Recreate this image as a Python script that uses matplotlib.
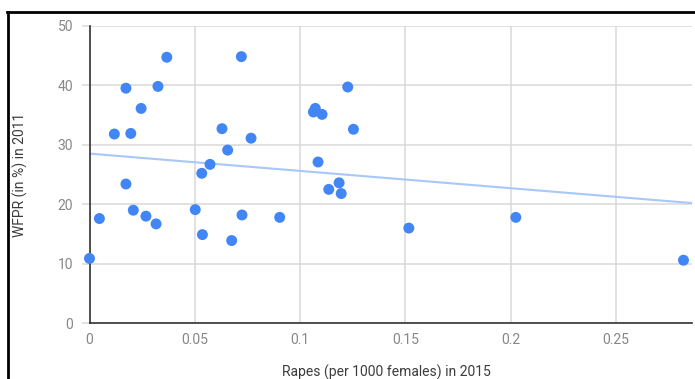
import numpy as np
import matplotlib
matplotlib.use('Agg')
import matplotlib.pyplot as plt
from matplotlib.lines import Line2D

plt.rcParams['font.family'] = ['Roboto', 'DejaVu Sans']

# rapes per 1000 females (2015) vs WFPR % (2011)
rapes = [0.0367, 0.0721, 0.0173, 0.0325, 0.0245, 0.0118, 0.0196, 0.0629,
         0.0767, 0.0656, 0.0572, 0.0533, 0.0173, 0.1063, 0.1072, 0.1104,
         0.1085, 0.1226, 0.1185, 0.1136, 0.1195, 0.1253, 0.0, 0.0047,
         0.0208, 0.0268, 0.0316, 0.0502, 0.0536, 0.0675, 0.0724, 0.0903,
         0.1516, 0.2024, 0.2820]
wfpr = [44.7, 44.8, 39.5, 39.8, 36.1, 31.8, 31.9, 32.7,
        31.1, 29.1, 26.7, 25.2, 23.4, 35.5, 36.1, 35.1,
        27.1, 39.7, 23.6, 22.5, 21.8, 32.6, 10.9, 17.6,
        19.0, 18.0, 16.7, 19.1, 14.9, 13.9, 18.2, 17.8,
        16.0, 17.8, 10.6]
xticks = [0, 0.05, 0.1, 0.15, 0.2, 0.25]
xticklabels = ['0', '0.05', '0.1', '0.15', '0.2', '0.25']
yticks = [0, 10, 20, 30, 40, 50]

W, H = 695, 379
fig = plt.figure(figsize=(W / 100, H / 100), dpi=100)
ax = fig.add_axes([89.5 / W, (H - 323.3) / H, (691.7 - 89.5) / W, (323.3 - 25.7) / H])

x = np.array(rapes)
y = np.array(wfpr)
# linear trendline, like the google sheets one
slope, icpt = np.polyfit(x, y, 1)
xmax = 0.2859
xs = np.array([0, xmax])
ax.plot(xs, icpt + slope * xs, color='#a8c7fa', lw=1.5, zorder=2)
ax.scatter(x, y, s=62, color='#4285f4', edgecolors='none', zorder=3, clip_on=False)

ax.set_xlim(0, xmax)
ax.set_ylim(0, 50)
ax.set_xticks(xticks)
ax.set_xticklabels(xticklabels)
ax.set_yticks(yticks)
ax.grid(True, color='#d9d9d9', lw=1.1)
ax.set_axisbelow(True)
for s in ['top', 'right']:
    ax.spines[s].set_visible(False)
ax.spines['left'].set_color('#333333')
ax.spines['bottom'].set_color('#333333')
ax.spines['left'].set_linewidth(1.2)
ax.spines['bottom'].set_linewidth(1.2)
ax.tick_params(axis='x', length=0, pad=7, labelsize=10, labelcolor='#878787')
ax.tick_params(axis='y', length=5.8, width=1.1, color='#d9d9d9', pad=6,
               labelsize=10, labelcolor='#878787')
ax.yaxis.get_major_ticks()[0].tick1line.set_color('#333333')

fig.text(386 / W, 1 - 372.7 / H, 'Rapes (per 1000 females) in 2015', ha='center',
         va='center', fontsize=10, color='#3c3c3c')
fig.text(20 / W, 1 - 174.5 / H, 'WFPR (in %) in 2011', ha='center', va='center',
         rotation=90, fontsize=10, color='#3c3c3c')

# black frame pieces on top and left
fig.add_artist(Line2D([7 / W, 1], [1 - 12 / H, 1 - 12 / H], color='black', lw=2, transform=fig.transFigure))
fig.add_artist(Line2D([7.5 / W, 7.5 / W], [1 - 12 / H, 0], color='black', lw=2, transform=fig.transFigure))

fig.savefig('out.png', dpi=100)
